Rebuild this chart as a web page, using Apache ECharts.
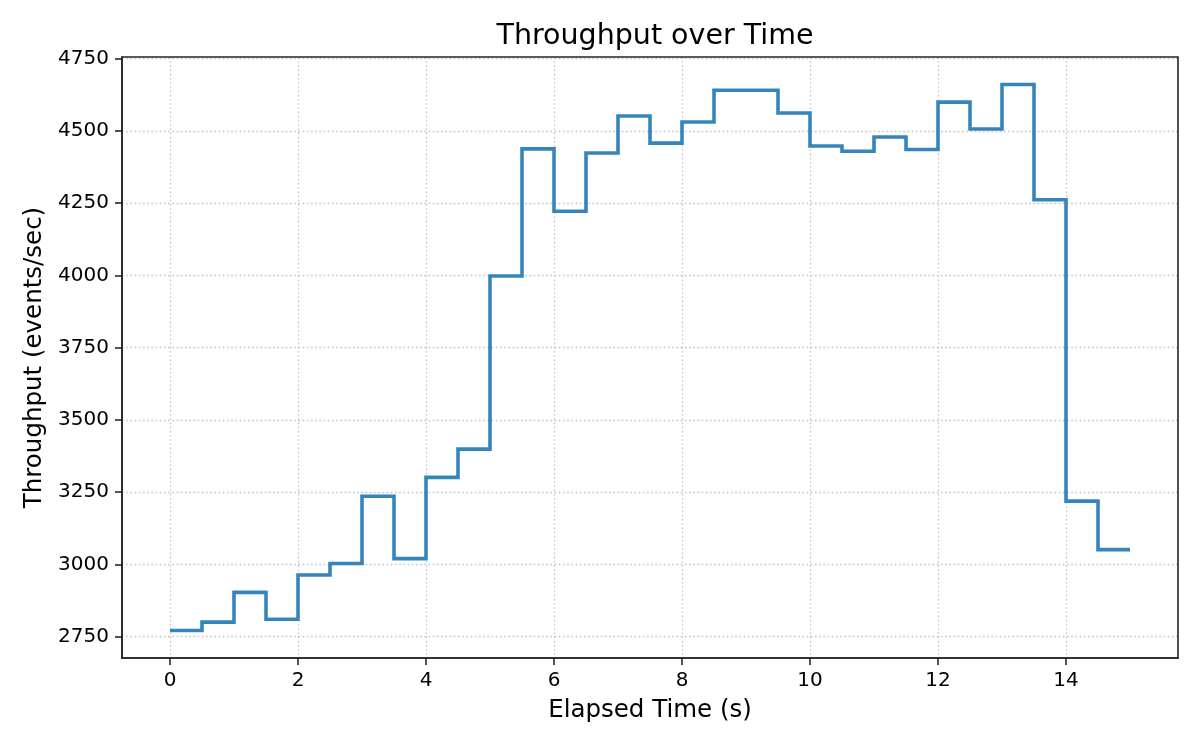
<!DOCTYPE html>
<html lang="en">
<head>
    <meta charset="UTF-8">
    <title>Throughput over Time</title>
    <script src="https://cdn.jsdelivr.net/npm/echarts@6/dist/echarts.min.js"></script>
    <style>
        html, body { margin: 0; padding: 0; background: #fff; }
    </style>
</head>
<body>
    <div id="main" style="width: 1200px; height: 750px;"></div>
    <script>
        // elapsed time (s), one point every half second
        var times = [0, 0.5, 1, 1.5, 2, 2.5, 3, 3.5, 4, 4.5, 5, 5.5, 6, 6.5, 7, 7.5,
            8, 8.5, 9, 9.5, 10, 10.5, 11, 11.5, 12, 12.5, 13, 13.5, 14, 14.5, 15];
        // throughput (events/sec), held until the next point
        var throughput = [2771, 2800, 2903, 2810, 2963, 3003, 3236, 3020, 3301, 3399,
            3998, 4438, 4222, 4424, 4552, 4458, 4531, 4641, 4641, 4562,
            4448, 4430, 4479, 4436, 4600, 4507, 4661, 4262, 3219, 3051, 3051];
        var xTicks = [0, 2, 4, 6, 8, 10, 12, 14];
        var yTicks = [2750, 3000, 3250, 3500, 3750, 4000, 4250, 4500, 4750];

        var chartDom = document.getElementById('main');
        var myChart = echarts.init(chartDom);
        var font = 'DejaVu Sans';
        var axisColor = '#262626';
        var gridLine = { show: true, lineStyle: { color: '#c4c4c4', type: [1.6, 2.6], width: 1.3 } };

        var option = {
            animation: false,
            title: {
                text: 'Throughput over Time',
                left: 650,
                textAlign: 'center',
                top: 17,
                textStyle: { fontFamily: font, fontSize: 28.5, fontWeight: 'normal', color: '#000' }
            },
            grid: { left: 122, right: 22, top: 57, bottom: 92 },
            xAxis: {
                type: 'value',
                min: -0.75,
                max: 15.75,
                name: 'Elapsed Time (s)',
                nameLocation: 'middle',
                nameGap: 40,
                nameTextStyle: { fontFamily: font, fontSize: 24.5, color: '#000' },
                axisLine: { show: true, onZero: false, lineStyle: { color: axisColor, width: 1.6 } },
                axisTick: { show: true, length: 7, customValues: xTicks, lineStyle: { color: axisColor, width: 1.6 } },
                axisLabel: {
                    customValues: xTicks, margin: 13, fontFamily: font, fontSize: 20, color: '#000',
                    formatter: function (v) { return String(v); }
                },
                splitLine: gridLine
            },
            yAxis: {
                type: 'value',
                min: 2676,
                max: 4756,
                name: 'Throughput (events/sec)',
                nameLocation: 'middle',
                nameGap: 72,
                nameTextStyle: { fontFamily: font, fontSize: 24.5, color: '#000' },
                axisLine: { show: true, onZero: false, lineStyle: { color: axisColor, width: 1.6 } },
                axisTick: { show: true, length: 7, customValues: yTicks, lineStyle: { color: axisColor, width: 1.6 } },
                axisLabel: {
                    customValues: yTicks, margin: 13, fontFamily: font, fontSize: 20, color: '#000',
                    formatter: function (v) { return String(v); }
                },
                splitLine: gridLine
            },
            series: [
                {
                    name: 'throughput',
                    type: 'line',
                    step: 'end',
                    data: times.map(function (t, i) { return [t, throughput[i]]; }),
                    showSymbol: false,
                    lineStyle: { color: '#3585bd', width: 3.6, join: 'miter', cap: 'butt' },
                    z: 3
                }
            ],
            // frame around the plot area (top and right edges)
            graphic: [
                {
                    type: 'rect',
                    shape: { x: 122, y: 57, width: 1056, height: 601 },
                    style: { fill: 'none', stroke: axisColor, lineWidth: 1.6 },
                    silent: true,
                    z: 10
                }
            ]
        };

        option && myChart.setOption(option);
    </script>
</body>
</html>
